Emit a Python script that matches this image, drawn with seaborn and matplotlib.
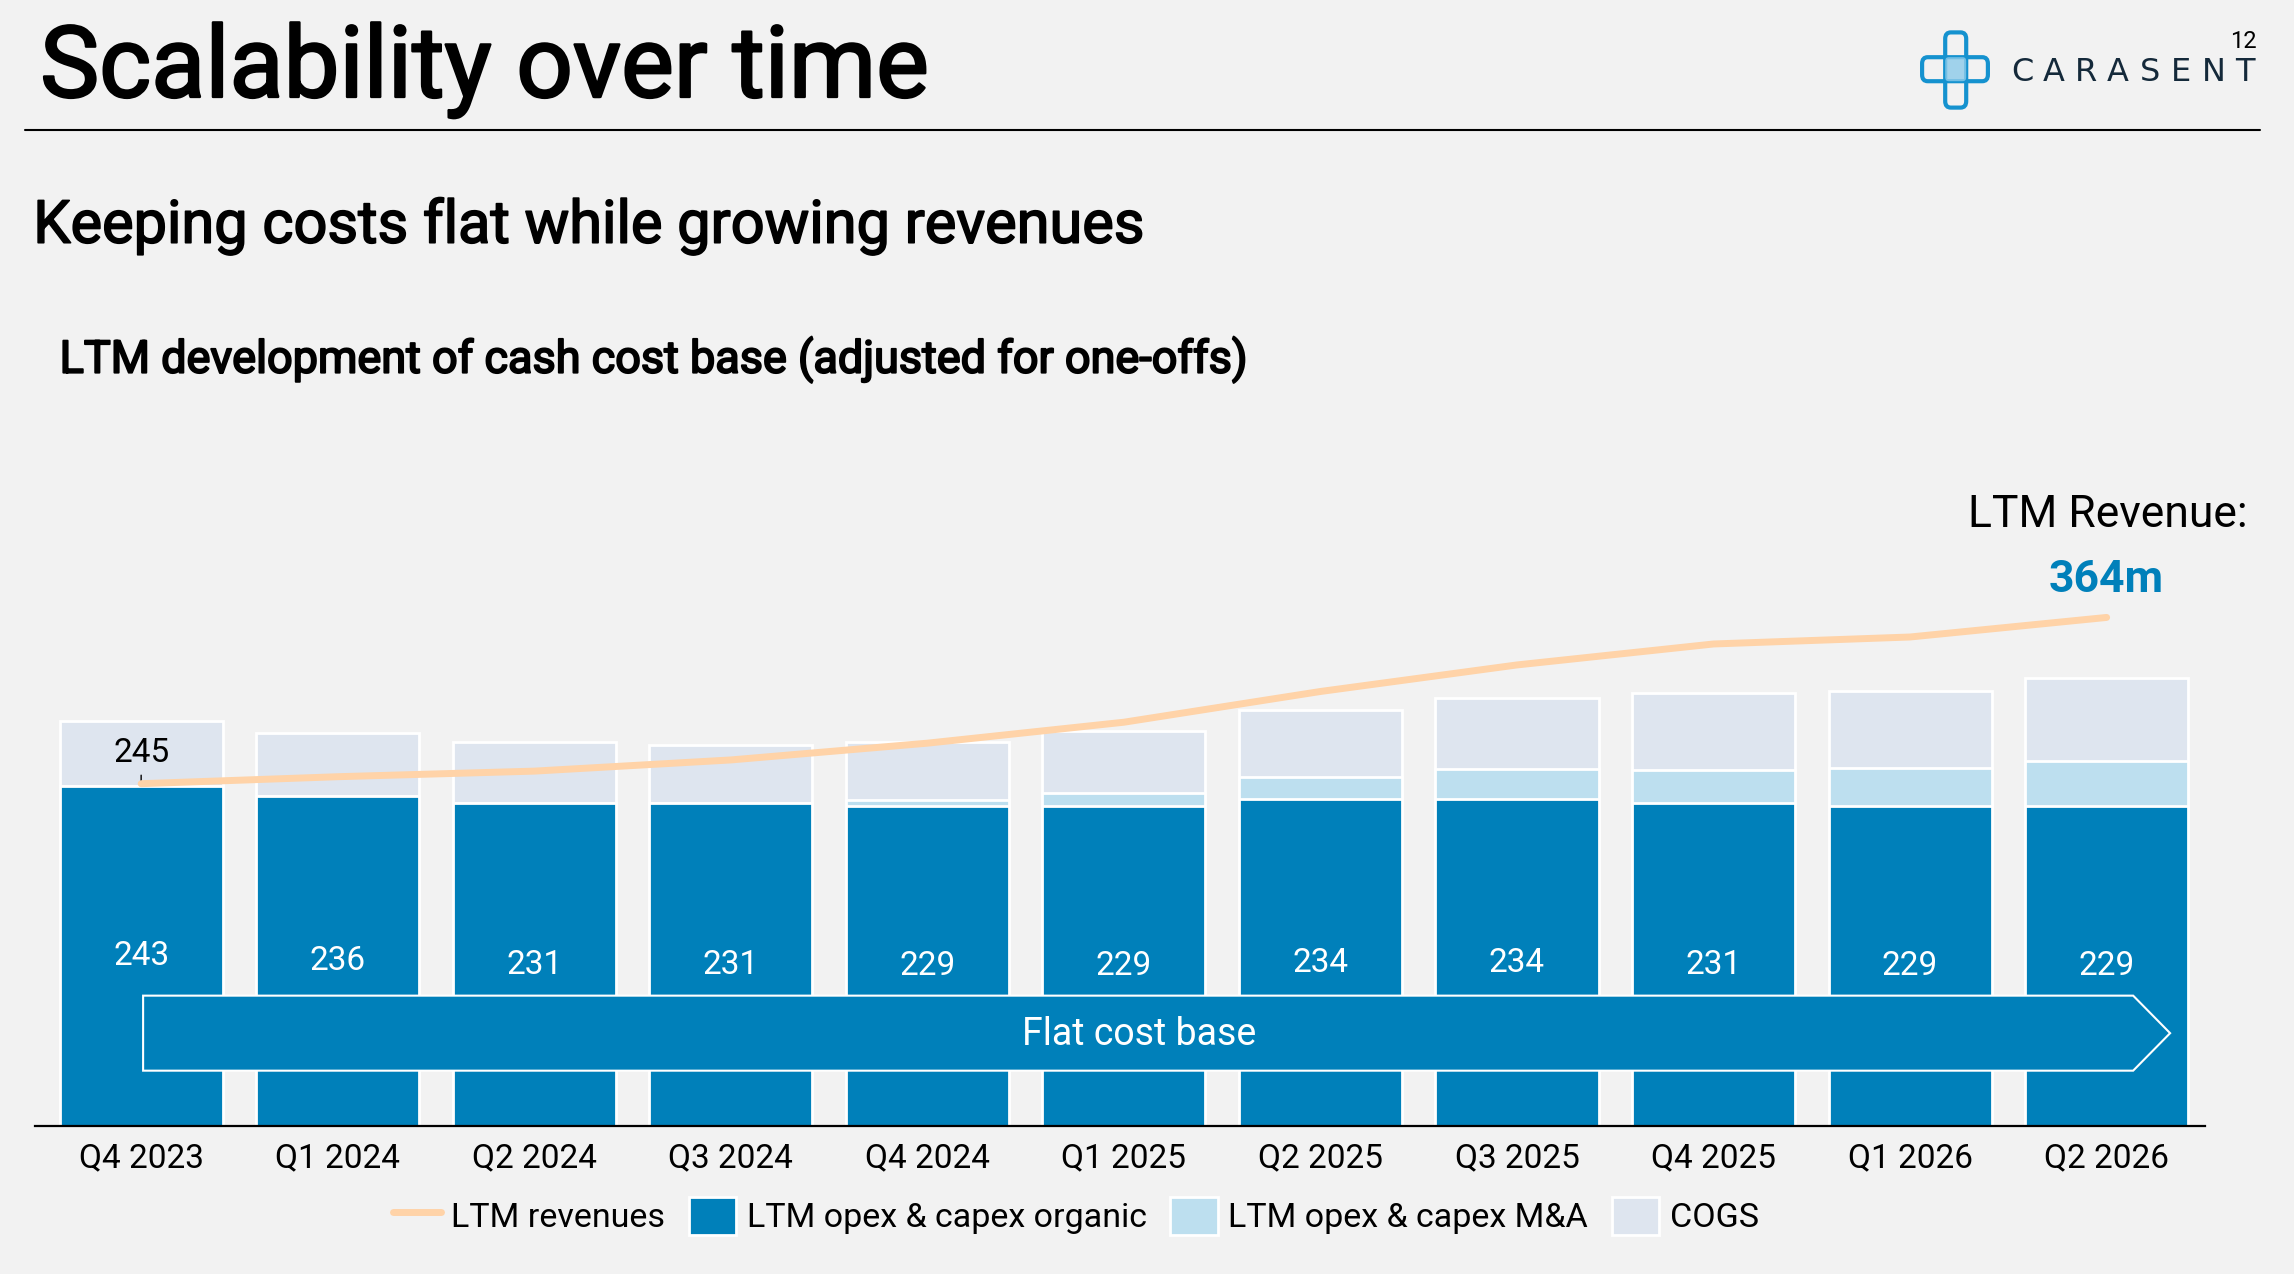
import numpy as np
import matplotlib.pyplot as plt
import matplotlib.patheffects as pe
import seaborn as sns
from matplotlib.lines import Line2D
from matplotlib.patches import Patch, Polygon, FancyBboxPatch

quarters = ['Q4 2023', 'Q1 2024', 'Q2 2024', 'Q3 2024', 'Q4 2024', 'Q1 2025',
            'Q2 2025', 'Q3 2025', 'Q4 2025', 'Q1 2026', 'Q2 2026']
opex_organic = [243, 236, 231, 231, 229, 229, 234, 234, 231, 229, 229]
opex_ma = [0, 0, 0, 0, 4, 9, 16, 21.5, 24, 27, 32.5]
cogs = [47, 45, 44, 42, 42, 45, 48, 50.5, 55, 55.5, 59.5]
revenue = [245, 250, 254, 262, 274, 289, 311, 330, 345, 350, 364]

C_ORG = '#0080BA'
C_MA = '#BDDFEF'
C_COGS = '#DEE5EF'
C_REV = '#FFD3A8'
BG = '#F2F2F2'

sns.set_theme(style='white', rc={'axes.facecolor': BG, 'figure.facecolor': BG,
                                 'text.color': 'black', 'xtick.color': 'black',
                                 'axes.labelcolor': 'black'})
plt.rcParams['font.family'] = ['Roboto', 'DejaVu Sans']

fig = plt.figure(figsize=(22.94, 12.74), dpi=100)
ax = fig.add_axes([0.01526, 0.11617, 0.9459, 0.4935])

org = np.array(opex_organic, dtype=float)
ma = np.array(opex_ma, dtype=float)
cg = np.array(cogs, dtype=float)

# stacked bars: draw the tallest layer first, then overlay the lower ones
bar_kw = dict(edgecolor='white', linewidth=2, width=0.83, saturation=1, ax=ax)
sns.barplot(x=quarters, y=org + ma + cg, color=C_COGS, **bar_kw)
sns.barplot(x=quarters, y=org + ma, color=C_MA, **bar_kw)
sns.barplot(x=quarters, y=org, color=C_ORG, **bar_kw)
ax.bar_label(ax.containers[-1], labels=[f'{v:.0f}' for v in org],
             label_type='center', color='white', fontsize=24)

x = np.arange(len(quarters))
sns.lineplot(x=x, y=revenue, color=C_REV, linewidth=5, ax=ax, zorder=5)

ax.annotate(f'{revenue[0]:.0f}', xy=(0, revenue[0]), xytext=(0, 22),
            textcoords='offset points', ha='center', va='center', fontsize=24,
            arrowprops=dict(arrowstyle='-', color='black', lw=1, shrinkA=2, shrinkB=0))
ax.annotate(f'{revenue[-1]:.0f}m', xy=(len(quarters) - 1, revenue[-1]), xytext=(0, 18),
            textcoords='offset points', ha='center', va='baseline', fontsize=32,
            fontweight='bold', color=C_ORG)

# "Flat cost base" arrow band
x0, xb, xt = 0.01, 10.135, 10.323
yb, yt = 39.6, 93.3
arrow = Polygon([(x0, yb), (xb, yb), (xt, (yb + yt) / 2), (xb, yt), (x0, yt)],
                closed=True, facecolor=C_ORG, edgecolor='white', lw=1.5, zorder=4)
ax.add_patch(arrow)
ax.text(5.08, (yb + yt) / 2 - 1, 'Flat cost base', ha='center', va='center',
        color='white', fontsize=27, zorder=6)

ax.set_xlim(-0.54, 10.5)
ax.set_ylim(0, 450)
ax.set_yticks([])
ax.set_ylabel('')
for s in ['top', 'right', 'left']:
    ax.spines[s].set_visible(False)
ax.spines['bottom'].set_color('black')
ax.spines['bottom'].set_linewidth(1.6)
ax.tick_params(axis='x', length=0, labelsize=24, pad=12, colors='black')

handles = [Line2D([0], [0], color=C_REV, lw=5),
           Patch(facecolor=C_ORG, edgecolor='white', lw=2),
           Patch(facecolor=C_MA, edgecolor='white', lw=2),
           Patch(facecolor=C_COGS, edgecolor='white', lw=2)]
labels = ['LTM revenues', 'LTM opex & capex organic', 'LTM opex & capex M&A', 'COGS']
fig.legend(handles, labels, loc='center', bbox_to_anchor=(0.469, 0.0455), ncol=4,
           frameon=False, fontsize=24.5, handlelength=1.4, handleheight=1.3,
           handletextpad=0.3, columnspacing=0.7)

# titles (regular weight thickened a little to look like a medium cut)
thick = lambda w: [pe.withStroke(linewidth=w, foreground='black')]
fig.text(0.0175, 0.9239, 'Scalability over time', fontsize=71.6,
         va='baseline', ha='left', path_effects=thick(1.7))
fig.text(0.0145, 0.8095, 'Keeping costs flat while growing revenues', fontsize=42.8,
         va='baseline', ha='left', path_effects=thick(1.2))
fig.text(0.026, 0.7075, 'LTM development of cash cost base (adjusted for one-offs)',
         fontsize=32.4, va='baseline', ha='left', path_effects=thick(1.4))
fig.text(0.98, 0.5866, 'LTM Revenue:', fontsize=32, va='baseline', ha='right')
fig.add_artist(Line2D([0.0109, 0.9852], [0.898, 0.898], color='black', lw=1.5))

# page number and logo
fig.text(0.9839, 0.9623, '12', fontsize=17, va='baseline', ha='right')
for i, ch in enumerate('CARASENT'):
    fig.text((2022 + i * 31.9) / 2294, 1 - 81 / 1274, ch, fontsize=23,
             family='DejaVu Sans', color='#14293A', ha='center', va='baseline')
lax = fig.add_axes([1920 / 2294, 1 - 110 / 1274, 70 / 2294, 80 / 1274])
lax.set_xlim(0, 1)
lax.set_ylim(0, 1)
lax.axis('off')
lax.add_patch(FancyBboxPatch((0.36, 0.03), 0.3, 0.94, boxstyle='round,pad=0,rounding_size=0.08',
                             facecolor='none', edgecolor='#1592CF', lw=3))
lax.add_patch(FancyBboxPatch((0.03, 0.36), 0.94, 0.3, boxstyle='round,pad=0,rounding_size=0.08',
                             facecolor='none', edgecolor='#1592CF', lw=3))
lax.add_patch(FancyBboxPatch((0.36, 0.36), 0.3, 0.3, boxstyle='round,pad=0,rounding_size=0.05',
                             facecolor='#8CCBEA', edgecolor='none', alpha=0.8))

fig.savefig('out.png', dpi=100, facecolor=BG)
